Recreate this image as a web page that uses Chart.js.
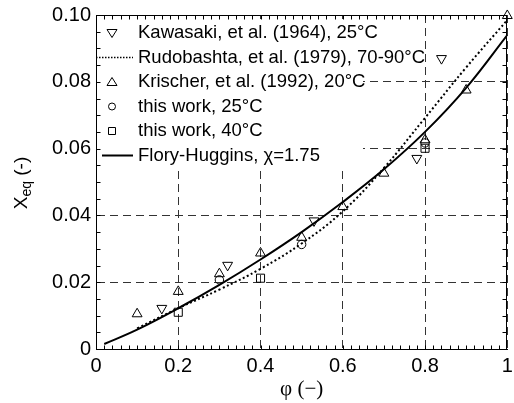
<!DOCTYPE html>
<html>
<head>
<meta charset="utf-8">
<script src="https://cdn.jsdelivr.net/npm/chart.js@4/dist/chart.umd.min.js"></script>
<style>
  html, body { margin: 0; padding: 0; background: #ffffff; }
  #wrap { width: 514px; height: 403px; }
</style>
</head>
<body>
<div id="wrap"><canvas id="c" width="514" height="403"></canvas></div>
<script>
// Kawasaki et al. (1964), 25°C
const phiKawasaki = [0.16, 0.32, 0.53, 0.78, 0.84];
const xKawasaki = [0.0122, 0.0251, 0.0384, 0.0571, 0.0870];
// Krischer et al. (1992), 20°C
const phiKrischer = [0.1, 0.2, 0.3, 0.4, 0.5, 0.6, 0.7, 0.8, 0.9, 1.0];
const xKrischer = [0.0105, 0.0172, 0.0225, 0.0287, 0.0334, 0.0426, 0.0526, 0.0626, 0.0775, 0.0998];
// this work, 25°C
const phiWork25 = [0.3, 0.5, 0.8];
const xWork25 = [0.0207, 0.0313, 0.0617];
// this work, 40°C
const phiWork40 = [0.2, 0.4, 0.8];
const xWork40 = [0.0110, 0.0212, 0.0601];
// Rudobashta et al. (1979), 70-90°C
const phiRudobashta = [0.1, 0.2, 0.3, 0.4, 0.5, 0.6, 0.7, 0.8, 0.9, 1.0];
const xRudobashta = [0.0062, 0.0122, 0.0178, 0.0240, 0.0316, 0.0412, 0.0542, 0.0692, 0.0843, 0.0985];
// Flory-Huggins, chi = 1.75
const phiFlory = [0.02, 0.1, 0.2, 0.3, 0.4, 0.5, 0.6, 0.7, 0.8, 0.9, 1.0];
const xFlory = [0.0015, 0.0058, 0.0122, 0.0192, 0.0268, 0.0350, 0.0440, 0.0538, 0.0650, 0.0782, 0.0940];

const xTicks = [0, 0.2, 0.4, 0.6, 0.8, 1];
const yTicks = [0, 0.02, 0.04, 0.06, 0.08, 0.10];

const legendItems = [
  {label: 'Kawasaki, et al. (1964), 25°C', kind: 'tri-down'},
  {label: 'Rudobashta, et al. (1979), 70-90°C', kind: 'dotted'},
  {label: 'Krischer, et al. (1992), 20°C', kind: 'tri-up'},
  {label: 'this work, 25°C', kind: 'circle'},
  {label: 'this work, 40°C', kind: 'square'},
  {label: 'Flory-Huggins, χ=1.75', kind: 'solid'}
];

const sansFont = '"Liberation Sans", Arial, sans-serif';
const serifFont = '"Liberation Serif", "Times New Roman", serif';

function pts(xs, ys){
  return xs.map(function(x, i){ return {x: x, y: ys[i]}; });
}

function markerSet(label, xs, ys, style, radius, rotation){
  return {
    label: label,
    data: pts(xs, ys),
    showLine: false,
    clip: 8,
    pointStyle: style,
    pointRadius: radius,
    pointRotation: rotation || 0,
    pointBorderColor: '#000000',
    pointBackgroundColor: 'rgba(0,0,0,0)',
    pointBorderWidth: 1,
    pointHoverRadius: radius
  };
}

function lineSet(label, xs, ys, dash){
  return {
    label: label,
    data: pts(xs, ys),
    showLine: true,
    borderColor: '#000000',
    borderWidth: 2,
    borderDash: dash,
    pointRadius: 0,
    pointHoverRadius: 0,
    tension: 0.4,
    fill: false
  };
}

// small shapes for the legend keys
function drawKey(ctx, kind, x, y){
  ctx.save();
  ctx.strokeStyle = '#000000';
  ctx.lineWidth = 1;
  ctx.beginPath();
  if(kind === 'tri-up'){
    ctx.moveTo(x, y - 4.5); ctx.lineTo(x + 5, y + 3.5); ctx.lineTo(x - 5, y + 3.5); ctx.closePath();
    ctx.stroke();
  }else if(kind === 'tri-down'){
    ctx.moveTo(x, y + 4.5); ctx.lineTo(x + 5, y - 3.5); ctx.lineTo(x - 5, y - 3.5); ctx.closePath();
    ctx.stroke();
  }else if(kind === 'circle'){
    ctx.arc(x, y, 3.5, 0, Math.PI * 2);
    ctx.stroke();
  }else if(kind === 'square'){
    ctx.rect(x - 3.5, y - 3.5, 7, 7);
    ctx.stroke();
  }else if(kind === 'dotted'){
    ctx.lineWidth = 1.5;
    ctx.setLineDash([1.5, 1.5]);
    ctx.moveTo(x - 16, y); ctx.lineTo(x + 21, y);
    ctx.stroke();
  }else if(kind === 'solid'){
    ctx.lineWidth = 2;
    ctx.moveTo(x - 10, y); ctx.lineTo(x + 21, y);
    ctx.stroke();
  }
  ctx.restore();
}

const insideLegend = {
  id: 'insideLegend',
  beforeDatasetsDraw(chart){
    const ctx = chart.ctx;
    const ca = chart.chartArea;
    ctx.save();
    ctx.fillStyle = '#ffffff';
    ctx.fillRect(ca.left + 1, ca.top + 4, 266, 150);
    ctx.font = '18.5px ' + sansFont;
    ctx.fillStyle = '#000000';
    ctx.textBaseline = 'middle';
    ctx.textAlign = 'left';
    legendItems.forEach(function(item, i){
      const y = ca.top + 18 + i * 24.5;
      drawKey(ctx, item.kind, ca.left + 16, y);
      ctx.fillText(item.label, ca.left + 42, y);
    });
    ctx.restore();
  }
};

const frameTicks = {
  id: 'frameTicks',
  afterDraw(chart){
    const ctx = chart.ctx;
    const ca = chart.chartArea;
    const xs = chart.scales.x, ys = chart.scales.y;
    const L = Math.round(ca.left) + 0.5, R = Math.round(ca.right) - 0.5;
    const T = Math.round(ca.top) + 0.5, B = Math.round(ca.bottom) + 0.5;
    ctx.save();
    ctx.strokeStyle = '#000000';
    ctx.lineWidth = 1;
    ctx.beginPath();
    for(let i = 1; i < 50; i++){
      const px = Math.round(xs.getPixelForValue(i * 0.02)) + 0.5;
      ctx.moveTo(px, B); ctx.lineTo(px, B - 4);
      ctx.moveTo(px, T); ctx.lineTo(px, T + 4);
    }
    for(let j = 1; j < 20; j++){
      const py = Math.round(ys.getPixelForValue(j * 0.005)) + 0.5;
      ctx.moveTo(L, py); ctx.lineTo(L + 4, py);
      ctx.moveTo(R, py); ctx.lineTo(R - 4, py);
    }
    ctx.stroke();
    ctx.strokeRect(L, T, R - L, B - T);

    // y-axis title with subscript
    ctx.translate(21.5, 183);
    ctx.rotate(-Math.PI / 2);
    ctx.fillStyle = '#000000';
    ctx.textBaseline = 'middle';
    ctx.textAlign = 'left';
    const big = '19px ' + sansFont, small = '14px ' + sansFont;
    ctx.font = big; const wX = ctx.measureText('X').width; const wP = ctx.measureText(' (-)').width;
    ctx.font = small; const wE = ctx.measureText('eq').width;
    let x0 = -(wX + wE + wP) / 2;
    ctx.font = big; ctx.fillText('X', x0, 0); x0 += wX;
    ctx.font = small; ctx.fillText('eq', x0, 6); x0 += wE;
    ctx.font = big; ctx.fillText(' (-)', x0, 0);
    ctx.restore();
  }
};

new Chart(document.getElementById('c'), {
  type: 'scatter',
  data: {
    datasets: [
      markerSet('Kawasaki, et al. (1964), 25°C', phiKawasaki, xKawasaki, 'triangle', 5.7, 180),
      markerSet('Krischer, et al. (1992), 20°C', phiKrischer, xKrischer, 'triangle', 5.7, 0),
      markerSet('this work, 25°C', phiWork25, xWork25, 'circle', 4.2, 0),
      markerSet('this work, 40°C', phiWork40, xWork40, 'rect', 5.7, 0),
      lineSet('Rudobashta, et al. (1979), 70-90°C', phiRudobashta, xRudobashta, [2, 2.5]),
      lineSet('Flory-Huggins, χ=1.75', phiFlory, xFlory, [])
    ]
  },
  options: {
    responsive: false,
    animation: false,
    events: [],
    layout: {padding: {left: 0, top: 15, right: 1, bottom: 0}},
    plugins: {
      legend: {display: false},
      tooltip: {enabled: false}
    },
    scales: {
      x: {
        type: 'linear',
        min: 0, max: 1,
        afterBuildTicks: function(scale){ scale.ticks = xTicks.map(function(v){ return {value: v}; }); },
        afterFit: function(scale){ scale.height = 54; scale.paddingLeft = 0; scale.paddingRight = 0; },
        ticks: {
          color: '#000000',
          padding: 5,
          maxRotation: 0,
          autoSkip: false,
          font: {family: sansFont, size: 20},
          callback: function(v){ return v === 0 ? '0' : (v === 1 ? '1' : v.toFixed(1)); }
        },
        grid: {color: '#333333', lineWidth: 1, drawTicks: false},
        border: {display: true, color: '#000000', width: 1, dash: [8, 5]},
        title: {display: true, text: 'φ (−)', color: '#000000', font: {family: serifFont, size: 21}, padding: {top: 0, bottom: 1}}
      },
      y: {
        type: 'linear',
        min: 0, max: 0.1,
        afterBuildTicks: function(scale){ scale.ticks = yTicks.map(function(v){ return {value: v}; }); },
        afterFit: function(scale){ scale.width = 96; scale.paddingTop = 0; scale.paddingBottom = 0; },
        ticks: {
          color: '#000000',
          padding: 5,
          autoSkip: false,
          font: {family: sansFont, size: 20},
          callback: function(v){ return v === 0 ? '0' : v.toFixed(2); }
        },
        grid: {color: '#333333', lineWidth: 1, drawTicks: false},
        border: {display: true, color: '#000000', width: 1, dash: [8, 5]}
      }
    }
  },
  plugins: [insideLegend, frameTicks]
});
</script>
</body>
</html>
